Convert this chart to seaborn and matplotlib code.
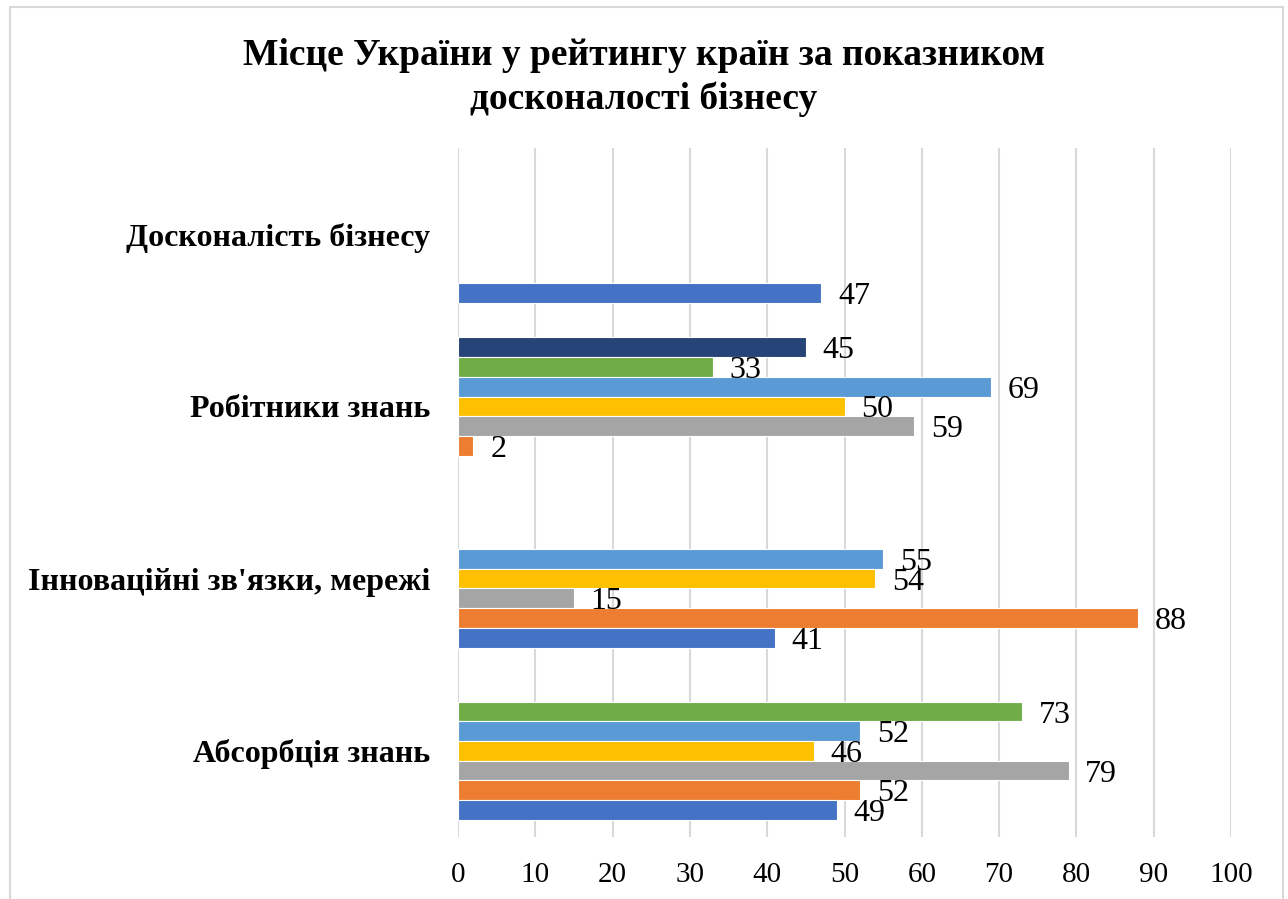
import numpy as np
import pandas as pd
import matplotlib
matplotlib.use("Agg")
import matplotlib.pyplot as plt
import seaborn as sns
from matplotlib.patches import Rectangle

# categories, top to bottom as they appear in the chart
categories = ["Досконалість бізнесу", "Робітники знань",
              "Інноваційні зв'язки, мережі", "Абсорбція знань"]

# one list per data series (values per category, NaN = no bar)
series_1 = [47, np.nan, 41, 49]
series_2 = [np.nan, 2, 88, 52]
series_3 = [np.nan, 59, 15, 79]
series_4 = [np.nan, 50, 54, 46]
series_5 = [np.nan, 69, 55, 52]
series_6 = [np.nan, 33, np.nan, 73]
series_7 = [np.nan, 45, np.nan, np.nan]

series_names = ["Ряд 1", "Ряд 2", "Ряд 3", "Ряд 4", "Ряд 5", "Ряд 6", "Ряд 7"]
series_colors = ["#4472C4", "#ED7D31", "#A5A5A5", "#FFC000",
                 "#5B9BD5", "#70AD47", "#264478"]

x_ticks = [0, 10, 20, 30, 40, 50, 60, 70, 80, 90, 100]

sns.set_theme(style="whitegrid")
plt.rcParams["font.family"] = ["Liberation Serif", "DejaVu Serif"]
plt.rcParams["text.color"] = "black"

# long table for seaborn
all_series = [series_1, series_2, series_3, series_4, series_5, series_6, series_7]
rows = []
for name, vals in zip(series_names, all_series):
    for cat, v in zip(categories, vals):
        rows.append({"category": cat, "series": name, "value": v})
df = pd.DataFrame(rows)

fig = plt.figure(figsize=(12.88, 8.99), dpi=100)
ax = fig.add_axes([458 / 1288, 1 - 837 / 899, (1231 - 458) / 1288, (837 - 148) / 899])

sns.barplot(data=df, x="value", y="category", hue="series",
            order=categories, hue_order=series_names[::-1],
            palette=dict(zip(series_names, series_colors)), saturation=1,
            orient="h", width=0.8, errorbar=None, legend=False,
            edgecolor="white", linewidth=0.8, ax=ax)

for cont in ax.containers:
    labels = []
    for bar in cont:
        w = bar.get_width()
        labels.append("" if np.isnan(w) or w == 0 else f"{w:g}")
    texts = ax.bar_label(cont, labels=labels, padding=12, fontsize=23, color="black")
    for t in texts:
        t.set_va("center_baseline")

ax.set_xlim(0, 100)
ax.set_ylim(3.5, -0.5)
ax.set_xticks(x_ticks)
ax.set_xlabel("")
ax.set_ylabel("")
ax.grid(axis="x", color="#D9D9D9", linewidth=1.5)
ax.grid(axis="y", visible=False)
ax.set_facecolor("white")
for s in ax.spines.values():
    s.set_visible(False)
ax.tick_params(axis="x", length=0, pad=18, labelsize=21, labelcolor="black")
ax.tick_params(axis="y", length=0, pad=20, labelsize=23, labelcolor="black")
for lbl in ax.get_yticklabels():
    lbl.set_fontweight("bold")

fig.suptitle("Місце України у рейтингу країн за показником\nдосконалості бізнесу",
             x=0.5, y=0.958, fontsize=27, fontweight="bold", linespacing=1.3,
             color="black")

fig.add_artist(Rectangle((10 / 1288, -0.01), (1283 - 10) / 1288, 1.01 - 7 / 899,
                         transform=fig.transFigure, fill=False,
                         edgecolor="#D9D9D9", linewidth=1.5))

fig.savefig("out.png", dpi=100, facecolor="white")
